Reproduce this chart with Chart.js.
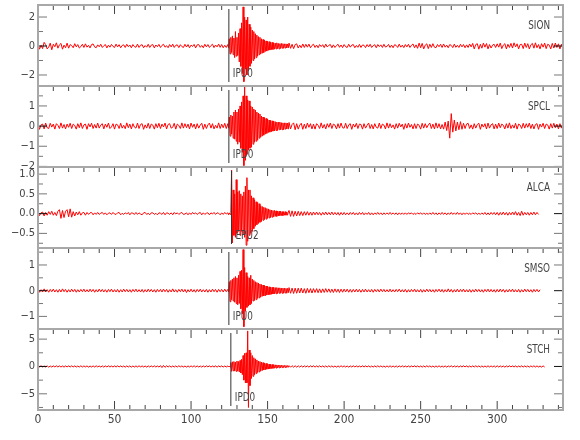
<!DOCTYPE html>
<html>
<head>
<meta charset="utf-8">
<script src="https://cdn.jsdelivr.net/npm/chart.js@4/dist/chart.umd.min.js"></script>
<style>
  body { margin: 0; background: #fff; width: 580px; height: 440px; position: relative; overflow: hidden; }
  canvas { position: absolute; left: 0; }
</style>
</head>
<body>
<script>
// each trace is stored in three pieces: quiet part before the arrival (1 s samples),
// the arrival window (0.5 s samples) and the coda (1 s samples)
const PRE_T0 = 0, PRE_DT = 1;
const EVENT_T0 = 124, EVENT_DT = 0.5;
const POST_T0 = 164, POST_DT = 1;

const stationNames = ['SION', 'SPCL', 'ALCA', 'SMSO', 'STCH'];
const pickLabels = ['IPU0', 'IPD0', 'EPU2', 'IPU0', 'IPD0'];
const pickTimes = [124.7, 124.7, 126.4, 124.7, 126.0];

const yMin = [-2.76, -2.03, -0.87, -1.49, -7.96];
const yMax = [2.83, 1.99, 1.18, 1.66, 6.85];
const yLabelStep = [2, 1, 0.5, 1, 5];
const yMinorStep = [1, 0.5, 0.25, 0.5, 2.5];
const yDecimals = [0, 0, 1, 0, 0];

const xMax = 343;
const xLabelStep = 50;
const xMinorStep = 10;

// ---- SION
const sionPre = [
  .15,-.22,.05,-.18,.25,.1,-.2,-.08,.2,-.26,.12,-.05,.22,-.15,.08,.18,-.22,.06,-.12,.2,
  -.15,.1,.03,-.12,.16,-.06,.1,-.14,-.04,.12,-.1,.15,-.08,.05,-.13,.1,.14,-.06,-.12,.08,
  -.05,.12,-.1,.02,.1,-.13,.06,-.08,.11,-.03,-.1,.13,-.06,.09,-.12,.04,.08,-.1,.12,-.05,
  .07,-.12,.1,-.04,-.09,.13,-.1,.05,.09,-.12,.03,-.08,.12,-.1,.06,.1,-.13,.07,-.05,.11,
  -.1,.04,.12,-.08,.02,-.12,.1,-.06,.13,-.1,.05,.08,-.11,.09,-.04,-.1,.12,-.07,.1,-.12,
  .06,-.03,.11,-.13,.08,.1,-.09,.04,-.12,.12,-.06,.1,-.1,.03,.12,-.11,.07,-.06,.13,-.09,
  .1,-.12,.05,-.1
];
const sionEvent = [
  .1,-.12,.5,-.55,.6,-.45,.7,-.6,
  .55,-.8,1.0,-.7,.6,-.65,.9,-1.1,
  1.2,-1.4,1.6,-1.9,2.7,-2.46,2.0,-1.6,
  1.8,-2.0,2.0,-1.7,1.5,-1.4,1.3,-1.2,
  1.1,-1.0,1.0,-.9,.85,-.8,.75,-.7,
  .65,-.6,.6,-.55,.5,-.5,.45,-.45,
  .4,-.38,.35,-.35,.32,-.3,.3,-.28,
  .26,-.25,.25,-.24,.22,-.22,.2,-.2,
  .22,-.18,.18,-.2,.16,-.17,.18,-.15,
  .16,-.16,.15,-.14,.15,-.13,.14,-.13
];
const sionPost = [
  .2,-.16,.12,-.18,.1,.15,-.14,.06,-.12,.14,-.1,.12,-.08,.13,-.12,.04,
  .12,-.1,.06,-.12,.1,-.04,.09,-.11,.13,-.07,.05,.1,-.12,.08,-.1,.03,.12,-.09,.07,-.11,
  .1,-.05,-.1,.12,-.08,.06,.1,-.12,.04,-.09,.11,-.1,.07,.05,-.11,.1,-.06,.12,-.1,.03,
  .09,-.12,.1,-.04,.08,-.1,.12,-.07,-.03,.11,-.1,.06,-.12,.09,.04,-.1,.13,-.08,.06,-.11,
  .1,-.06,.12,-.1,.05,.14,-.12,.08,-.16,.2,-.12,.18,-.2,.06,.15,-.18,.12,-.1,.16,-.08,
  -.12,.1,-.05,.12,-.1,.14,-.08,.06,-.12,.1,.04,-.11,.13,-.09,.05,-.1,.12,-.06,.1,-.12,
  .08,-.1,.14,-.06,.18,-.2,.1,.16,-.22,.12,-.15,.2,-.08,.17,-.2,.1,-.14,.06,.12,-.1,
  .15,-.08,.2,-.18,.06,.16,-.2,.12,-.1,.18,-.14,.22,-.06,.15,-.2,.1,.12,-.18,.2,-.1,
  .16,-.2,.08,.18,-.15,.22,-.12,.1,-.2,.16,-.08,.2,-.18,.12,.06,-.2,.18,-.14,.2,-.1,
  .15,-.2,.12,-.16
];

// ---- SPCL
const spclPre = [
  .12,-.16,.06,.1,-.14,.15,-.08,-.12,.14,-.05,.1,-.15,.12,.04,-.12,.16,-.1,.08,-.14,.1,
  -.06,.14,-.12,.1,.03,-.15,.12,-.08,.16,-.12,.06,.1,-.16,.12,-.04,.14,-.12,.08,-.1,.15,
  -.1,.05,.12,-.14,.1,-.06,.15,-.12,-.04,.12,-.15,.1,.06,-.12,.14,-.1,.04,-.13,.16,-.08,
  .1,-.14,.12,-.05,-.1,.15,-.12,.08,.12,-.16,.06,-.1,.14,-.12,.1,.05,-.15,.12,-.08,.14,
  -.12,.1,-.04,.15,-.14,.08,.12,-.1,-.06,.14,-.15,.1,.03,-.12,.16,-.1,.12,-.08,.1,-.14,
  .15,-.06,.1,-.14,.12,-.1,.05,.14,-.16,.1,-.12,.06,.15,-.1,.12,-.14,.04,-.1,.16,-.12,
  .1,-.08,.14,-.12
];
const spclEvent = [
  .12,-.1,.45,-.5,.55,-.4,.5,-.6,
  .7,-.65,.8,-.75,.7,-.9,.85,-.8,
  1.0,-1.1,1.2,-1.3,1.5,-1.96,1.95,-1.7,
  1.5,-1.4,1.3,-1.2,1.25,-1.1,1.0,-1.05,
  .95,-.9,.85,-.8,.8,-.75,.7,-.7,
  .65,-.6,.6,-.55,.5,-.5,.45,-.45,
  .42,-.4,.38,-.36,.35,-.32,.3,-.3,
  .28,-.28,.26,-.25,.25,-.24,.22,-.22,
  .2,-.22,.2,-.18,.2,-.18,.17,-.18,
  .16,-.18,.16,-.15,.16,-.14,.15,-.15
];
const spclPost = [
  .18,-.14,.08,.16,-.18,.12,-.15,.05,.14,-.16,.1,-.12,.15,-.06,.12,-.14,
  .1,-.15,.12,.04,-.12,.16,-.1,.08,-.14,.12,-.06,.15,-.12,.1,.05,-.14,.12,-.1,.15,-.08,
  -.1,.14,-.12,.06,.12,-.16,.1,-.05,.14,-.12,.1,.08,-.15,.12,-.1,.04,.15,-.12,.08,-.14,
  .12,-.06,-.1,.15,-.12,.1,.05,-.14,.16,-.1,.12,-.08,.06,-.15,.12,-.1,.14,-.04,.1,-.16,
  .12,-.1,.15,-.06,.08,-.14,.12,-.12,.1,.04,-.15,.14,-.1,.12,-.08,.06,.15,-.12,.1,-.14,
  .16,-.1,.12,-.14,.08,-.15,.2,-.22,.25,-.6,.62,-.3,.3,-.24,.2,-.18,.22,-.16,.14,-.12,
  .1,.14,-.12,.06,-.15,.12,-.1,.08,.14,-.16,.1,-.05,.12,-.14,.15,-.1,.06,.12,-.14,.1,
  -.12,.15,-.08,.1,.04,-.14,.12,-.1,.16,-.12,.06,-.1,.14,-.15,.1,.05,-.12,.14,-.1,.12,
  -.06,.15,-.12,.1,-.14,.08,.12,-.16,.1,-.05,.14,-.12,.1,.06,-.15,.12,-.1,.14,-.08,.1,
  -.14,.12,-.1,.15
];

// ---- ALCA
const alcaPre = [
  .03,-.05,.02,.04,-.06,.03,-.04,.05,-.02,.06,-.04,.03,-.05,.06,.1,-.12,.08,-.1,.06,.1,
  -.08,.12,-.09,.05,-.06,.04,-.03,.05,-.04,.02,.03,-.04,.03,-.02,.02,.03,-.03,.02,-.02,.03,
  -.02,.01,.03,-.02,.02,-.03,.01,.02,-.02,.03,-.01,-.02,.02,.03,-.03,.01,-.02,.02,-.01,.03,
  -.03,.02,.01,-.02,.03,-.02,.02,-.01,-.03,.02,.03,-.02,.01,-.03,.02,.02,-.02,.01,-.03,.02,
  .01,-.02,.03,-.03,.02,.01,-.02,.02,-.03,.03,-.01,.02,-.02,.01,.03,-.02,-.01,.02,-.03,.02,
  -.02,.03,-.01,.02,-.02,.01,.03,-.03,.02,-.02,.01,.02,-.03,.02,-.01,.03,-.02,.02,.01,-.03,
  .02,-.02,.03,-.01
];
const alcaEvent = [
  .02,-.03,.02,-.02,.03,1.1,-.74,.6,
  -.55,.5,-.6,.86,-.5,.55,-.45,.58,
  -.55,.5,-.45,.45,-.5,.55,-.6,.7,
  -.8,.91,-.7,.6,-.55,.6,-.5,.45,
  -.45,.4,-.38,.35,-.32,.3,-.28,.28,
  -.25,.25,-.22,.2,-.2,.18,-.17,.16,
  -.15,.15,-.14,.13,-.12,.12,-.11,.1,
  -.1,.09,-.09,.08,-.08,.08,-.07,.07,
  -.07,.06,-.06,.06,-.05,.06,-.05,.05,
  -.05,.05,-.04,.05,-.04,.04,-.04,.04
];
const alcaPost = [
  .08,-.07,.07,-.07,.06,-.06,.06,-.05,.05,-.05,.05,-.04,.05,-.04,.04,-.04,
  .04,-.03,.04,-.03,.03,-.04,.03,-.03,.04,-.03,.03,-.03,.04,-.03,.03,-.03,.03,-.04,.03,-.03,
  .03,-.03,.02,-.03,.03,-.02,.03,-.03,.02,-.03,.03,-.02,.03,-.03,.02,-.02,.03,-.03,.02,-.03,
  .02,-.02,.03,-.02,.02,-.03,.02,-.02,.02,-.02,.03,-.02,.02,-.02,.02,-.03,.02,-.02,.02,-.02,
  .02,-.02,.02,-.01,.02,-.02,.01,-.02,.02,-.01,.02,-.02,.02,-.02,.01,-.02,.02,-.02,.03,-.02,
  .02,-.03,.02,-.02,.03,-.02,.02,-.03,.02,-.02,.03,-.02,.02,-.02,.03,-.02,.02,-.03,.02,-.02,
  .02,-.02,.01,-.02,.02,-.01,.02,-.02,.01,-.02,.02,-.02,.03,-.03,.02,-.03,.03,-.02,.03,-.03,
  .03,-.04,.03,-.03,.04,-.03,.03,-.04,.03,-.03,.04,-.03,.05,-.04,.03,-.05,.06,-.04,.03,-.03,
  .03,-.04,.03,-.03,.04,-.03,.03,-.02
];

// ---- SMSO
const smsoPre = [
  .05,-.06,.04,-.05,.07,-.05,.04,-.06,.05,-.04,.06,-.05,.04,-.06,.05,-.05,.07,-.04,.05,-.06,
  .04,-.05,.06,-.04,.05,-.06,.04,-.05,.05,-.04,.06,-.05,.04,-.05,.06,-.04,.05,-.06,.04,-.05,
  .06,-.04,.05,-.05,.04,-.06,.05,-.04,.06,-.05,.04,-.05,.05,-.06,.04,-.05,.06,-.04,.05,-.05,
  .04,-.06,.05,-.04,.06,-.05,.04,-.05,.05,-.06,.04,-.05,.06,-.04,.05,-.05,.04,-.06,.05,-.04,
  .05,-.05,.06,-.04,.05,-.06,.04,-.05,.07,-.05,.04,-.06,.05,-.04,.06,-.05,.05,-.07,.04,-.05,
  .06,-.05,.04,-.06,.05,-.04,.06,-.05,.04,-.05,.05,-.06,.04,-.05,.06,-.04,.05,-.06,.05,-.04,
  .05,-.05,.06,-.04
];
const smsoEvent = [
  .05,-.05,.35,-.43,.4,-.35,.45,-.4,
  .5,-.45,.55,-.5,.5,-.55,.6,-.5,
  .75,-.7,.8,-.9,1.6,-1.4,.9,-.8,
  .7,-.65,.55,-.6,.5,-.55,.6,-.5,
  .45,-.4,.4,-.38,.35,-.35,.32,-.3,
  .3,-.28,.26,-.25,.24,-.22,.22,-.2,
  .2,-.2,.18,-.17,.17,-.16,.15,-.15,
  .14,-.14,.13,-.13,.13,-.12,.12,-.12,
  .12,-.11,.11,-.1,.11,-.1,.1,-.1,
  .1,-.1,.1,-.09,.09,-.1,.09,-.08
];
const smsoPost = [
  .12,-.1,.1,-.11,.1,-.1,.1,-.09,.1,-.09,.08,-.1,.09,-.08,.08,-.09,
  .08,-.07,.08,-.08,.07,-.08,.07,-.07,.08,-.06,.07,-.07,.06,-.07,.07,-.06,.06,-.07,.06,-.06,
  .06,-.05,.06,-.06,.05,-.06,.05,-.05,.06,-.05,.05,-.06,.05,-.05,.06,-.05,.04,-.05,.05,-.06,
  .05,-.04,.05,-.05,.06,-.04,.05,-.05,.04,-.05,.06,-.05,.04,-.05,.05,-.04,.06,-.05,.04,-.05,
  .05,-.06,.04,-.05,.05,-.04,.06,-.05,.04,-.05,.05,-.06,.04,-.05,.06,-.04,.05,-.05,.04,-.06,
  .05,-.04,.06,-.05,.05,-.06,.04,-.05,.07,-.05,.05,-.06,.04,-.05,.06,-.05,.05,-.04,.06,-.05,
  .04,-.05,.05,-.06,.04,-.05,.06,-.04,.05,-.05,.04,-.06,.05,-.04,.06,-.05,.05,-.05,.04,-.06,
  .05,-.05,.06,-.04,.05,-.06,.04,-.05,.05,-.04,.06,-.05,.04,-.05,.05,-.06,.04,-.05,.06,-.04,
  .05,-.05,.04,-.06,.05,-.04,.05,-.05,.04
];

// ---- STCH
const stchPre = [
  .1,-.08,.12,-.1,.08,-.1,.1,-.12,.08,-.1,.1,-.08,.12,-.1,.1,-.1,.08,-.12,.1,-.08,
  .1,-.1,.12,-.08,.1,-.1,.08,-.1,.12,-.1,.1,-.08,.1,-.12,.08,-.1,.1,-.1,.12,-.08,
  .08,-.1,.1,-.12,.1,-.08,.12,-.1,.08,-.1,.1,-.1,.12,-.08,.1,-.1,.08,-.12,.1,-.1,
  .1,-.12,.08,-.1,.1,-.1,.12,-.08,.1,-.1,.08,-.12,.1,-.1,.1,-.08,.12,-.1,.08,-.1,
  .15,-.2,.18,-.15,.12,-.1,.1,-.12,.08,-.1,.1,-.1,.12,-.08,.1,-.1,.08,-.12,.1,-.1,
  .1,-.08,.12,-.1,.1,-.1,.08,-.12,.1,-.1,.12,-.08,.1,-.1,.08,-.1,.1,-.12,.1,-.08,
  .1,-.1,.08,-.1
];
const stchEvent = [
  .1,-.1,.08,-.1,.7,-.9,.85,-.8,
  .9,-.85,.8,-.9,1.0,-.85,.9,-1.0,
  1.1,-1.2,1.3,-1.5,2.0,-2.5,2.4,-3.0,
  2.5,-3.0,6.5,-7.5,3.0,-3.5,2.5,-2.2,
  2.0,-1.8,1.6,-1.5,1.4,-1.3,1.2,-1.1,
  1.0,-1.0,.9,-.85,.8,-.75,.7,-.65,
  .6,-.6,.55,-.5,.5,-.48,.45,-.42,
  .4,-.38,.36,-.35,.33,-.32,.3,-.3,
  .28,-.27,.26,-.25,.24,-.23,.22,-.21,
  .2,-.2,.19,-.18,.18,-.17,.16,-.15
];
const stchPost = [
  .15,-.14,.14,-.13,.13,-.12,.12,-.12,.12,-.11,.11,-.1,.1,-.12,.12,-.1,
  .12,-.12,.1,-.12,.12,-.1,.1,-.12,.1,-.1,.12,-.1,.1,-.1,.08,-.12,.1,-.1,.12,-.08,
  .1,-.1,.08,-.12,.1,-.1,.12,-.08,.1,-.1,.08,-.1,.12,-.1,.1,-.08,.1,-.12,.08,-.1,
  .1,-.1,.12,-.08,.1,-.1,.08,-.12,.1,-.1,.12,-.1,.08,-.1,.1,-.12,.1,-.08,.12,-.1,
  .08,-.1,.1,-.12,.1,-.08,.12,-.1,.1,-.1,.08,-.12,.1,-.1,.12,-.08,.1,-.1,.08,-.12,
  .1,-.1,.12,-.1,.08,-.1,.1,-.12,.1,-.08,.12,-.1,.1,-.1,.08,-.12,.1,-.1,.12,-.08,
  .1,-.12,.08,-.1,.1,-.1,.12,-.08,.1,-.12,.1,-.1,.08,-.1,.12,-.1,.1,-.08,.1,-.12,
  .12,-.1,.1,-.1,.08,-.12,.1,-.1,.12,-.08,.1,-.1,.1,-.12,.08,-.1,.12,-.1,.1,-.1,
  .1,-.12,.1,-.08,.12,-.1,.1,-.1,.08,-.12,.1,-.1
];

const traces = [
  [sionPre, sionEvent, sionPost],
  [spclPre, spclEvent, spclPost],
  [alcaPre, alcaEvent, alcaPost],
  [smsoPre, smsoEvent, smsoPost],
  [stchPre, stchEvent, stchPost]
];

function toPoints([pre, ev, post]) {
  return [
    ...pre.map((v, k) => ({ x: PRE_T0 + k * PRE_DT, y: v })),
    ...ev.map((v, k) => ({ x: EVENT_T0 + k * EVENT_DT, y: v })),
    ...post.map((v, k) => ({ x: POST_T0 + k * POST_DT, y: v }))
  ];
}

// layout (pixels)
const FONT = "'Liberation Sans Narrow', 'DejaVu Sans Condensed', 'Liberation Sans', sans-serif";
const TOP = 5, PANEL_H = 81, PAD = 12, AXIS_H = 24;
const LEFT = 38, RIGHT = 563, W = 580;

Chart.defaults.font.family = FONT;
Chart.defaults.font.size = 11;
Chart.defaults.color = '#444';

const minus = s => s.replace('-', '\u2212');

// narrow text, like the plotting package's stroke font
function narrowText(ctx, text, x, y, align) {
  ctx.save();
  ctx.translate(x, y);
  ctx.scale(0.82, 1);
  ctx.textAlign = align;
  ctx.fillText(text, 0, 0);
  ctx.restore();
}

// frame, inward ticks, pick marker and station name
const seisFrame = {
  id: 'seisFrame',
  afterDatasetsDraw(chart, args, o) {
    const { ctx, chartArea: a, scales: { x, y } } = chart;
    ctx.save();

    const px = x.getPixelForValue(o.pickTime);
    ctx.strokeStyle = '#333';
    ctx.lineWidth = 1;
    ctx.beginPath();
    ctx.moveTo(px, a.top + 4);
    ctx.lineTo(px, a.bottom - 4);
    ctx.stroke();

    ctx.font = '12px ' + FONT;
    ctx.fillStyle = '#444';
    ctx.textBaseline = 'alphabetic';
    narrowText(ctx, o.pick, px + 4, a.bottom - 9, 'left');
    narrowText(ctx, o.station, a.right - 13, a.top + 24, 'right');

    // x ticks: top edge (and bottom edge on the last panel)
    ctx.strokeStyle = '#444';
    ctx.lineWidth = 1;
    const nx = Math.floor(x.max / xMinorStep);
    for (let k = 1; k <= nx; k++) {
      const v = k * xMinorStep;
      const p = x.getPixelForValue(v);
      const len = v % xLabelStep === 0 ? 9 : 5;
      ctx.beginPath();
      ctx.moveTo(p, a.top);
      ctx.lineTo(p, a.top + len);
      if (o.bottomTicks) {
        ctx.moveTo(p, a.bottom);
        ctx.lineTo(p, a.bottom - len);
      }
      ctx.stroke();
    }

    // y ticks on both sides, the zero tick darker
    const k0 = Math.ceil(y.min / o.minor - 1e-9), k1 = Math.floor(y.max / o.minor + 1e-9);
    for (let k = k0; k <= k1; k++) {
      const v = k * o.minor;
      const r = v / o.major;
      const len = Math.abs(r - Math.round(r)) < 1e-6 ? 9 : 5;
      const p = y.getPixelForValue(v);
      ctx.strokeStyle = k === 0 ? '#111' : '#777';
      ctx.beginPath();
      ctx.moveTo(a.left, p);
      ctx.lineTo(a.left + len, p);
      ctx.moveTo(a.right, p);
      ctx.lineTo(a.right - len, p);
      ctx.stroke();
    }

    ctx.strokeStyle = '#a8a8a8';
    ctx.lineWidth = 2;
    ctx.strokeRect(a.left, a.top, a.width, a.height);
    ctx.restore();
  }
};

traces.forEach((parts, i) => {
  const last = i === traces.length - 1;
  const canvas = document.createElement('canvas');
  canvas.width = W;
  canvas.height = PAD + PANEL_H + (last ? AXIS_H : PAD);
  canvas.style.top = (TOP + i * PANEL_H - PAD) + 'px';
  document.body.appendChild(canvas);

  new Chart(canvas, {
    type: 'line',
    data: {
      datasets: [{
        data: toPoints(parts),
        borderColor: '#ff0000',
        borderWidth: 1,
        pointRadius: 0,
        tension: 0
      }]
    },
    options: {
      responsive: false,
      animation: false,
      events: [],
      layout: { padding: { top: PAD, bottom: last ? 0 : PAD, left: 0, right: W - RIGHT } },
      plugins: {
        legend: { display: false },
        tooltip: { enabled: false },
        seisFrame: {
          station: stationNames[i],
          pick: pickLabels[i],
          pickTime: pickTimes[i],
          major: yLabelStep[i],
          minor: yMinorStep[i],
          bottomTicks: last
        }
      },
      scales: {
        x: {
          type: 'linear',
          position: 'bottom',
          display: last,
          min: 0,
          max: xMax,
          grid: { display: false, drawTicks: false },
          border: { display: false },
          ticks: { stepSize: xLabelStep, includeBounds: false, padding: 3, maxRotation: 0, autoSkip: false, font: { size: 12 } },
          afterFit(s) { if (last) s.height = AXIS_H; }
        },
        y: {
          type: 'linear',
          min: yMin[i],
          max: yMax[i],
          grid: { display: false, drawTicks: false },
          border: { display: false },
          ticks: {
            stepSize: yLabelStep[i],
            includeBounds: false,
            padding: 3,
            autoSkip: false,
            callback: v => minus(v.toFixed(yDecimals[i]))
          },
          afterFit(s) { s.width = LEFT; }
        }
      }
    },
    plugins: [seisFrame]
  });
});
</script>
</body>
</html>
